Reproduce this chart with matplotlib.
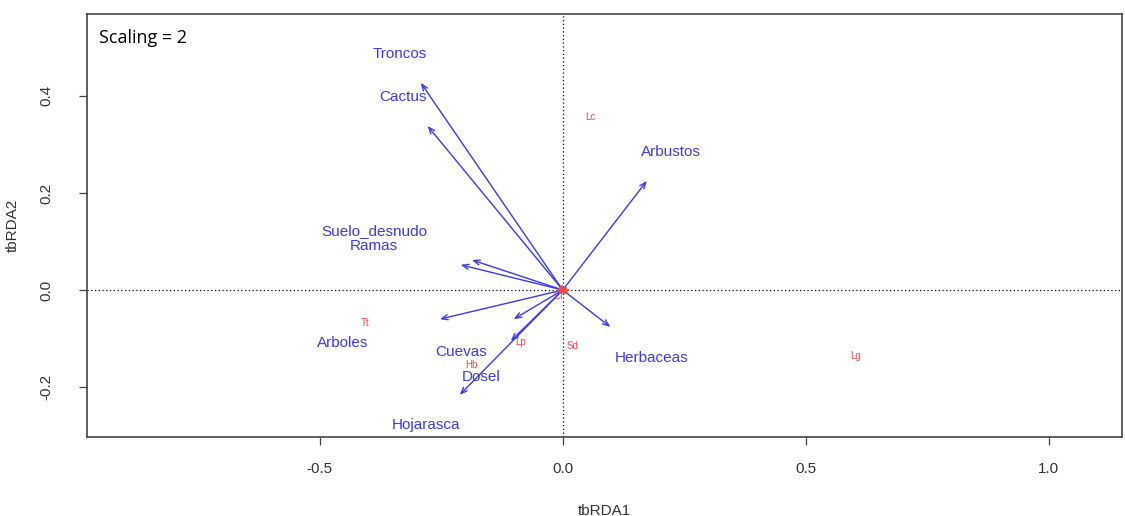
import matplotlib
matplotlib.use("Agg")
import matplotlib.pyplot as plt

# Environmental variable arrows (biplot scores)
env_names = ["Troncos", "Cactus", "Arbustos", "Suelo_desnudo", "Ramas", "Arboles",
             "Cuevas", "Dosel", "Hojarasca", "Herbaceas"]
env_x = [-0.292, -0.278, 0.173, -0.187, -0.210, -0.253, -0.101, -0.107, -0.212, 0.098]
env_y = [0.427, 0.338, 0.225, 0.062, 0.052, -0.060, -0.060, -0.105, -0.216, -0.076]
# label positions
lab_x = [-0.335, -0.329, 0.222, -0.387, -0.389, -0.453, -0.210, -0.167, -0.282, 0.183]
lab_y = [0.487, 0.398, 0.285, 0.122, 0.091, -0.109, -0.128, -0.179, -0.278, -0.140]

# Species scores
sp_names = ["Lc", "Tt", "Lp", "Sd", "Lg", "Hb", "Cf"]
sp_x = [0.056, -0.407, -0.086, 0.021, 0.603, -0.188, -0.008]
sp_y = [0.357, -0.068, -0.107, -0.115, -0.136, -0.155, -0.012]

# Site points clustered at origin
site_x = [-0.004, 0.002, 0.006, -0.002, 0.004, -0.006, 0.000]
site_y = [0.002, -0.003, 0.001, 0.004, -0.001, -0.002, 0.000]

blue = "#3b3bea"
red = "#f04848"

fig = plt.figure(figsize=(11.25, 5.16), dpi=100)
ax = fig.add_axes([0.0773, 0.153, 0.9197, 0.820])
ax.set_xlim(-0.979, 1.150)
ax.set_ylim(-0.303, 0.569)

ax.axhline(0, color="black", linestyle=(0, (1, 2)), linewidth=0.9, zorder=1)
ax.axvline(0, color="black", linestyle=(0, (1, 2)), linewidth=0.9, zorder=1)

ax.scatter(site_x, site_y, marker="+", color=red, s=25, linewidths=1.2, zorder=3)

for x, y in zip(env_x, env_y):
    ax.annotate("", xy=(x, y), xytext=(0, 0),
                arrowprops=dict(arrowstyle="->,head_length=0.45,head_width=0.18",
                                color=blue, lw=1.0, shrinkA=0, shrinkB=0),
                zorder=2)
for n, x, y in zip(env_names, lab_x, lab_y):
    ax.text(x, y, n, color=blue, fontsize=11, ha="center", va="center",
            family="Liberation Sans")

for n, x, y in zip(sp_names, sp_x, sp_y):
    ax.text(x, y, n, color=red, fontsize=7, ha="center", va="center",
            family="Liberation Sans")

ax.text(0.012, 0.965, "Scaling = 2", transform=ax.transAxes, fontsize=13,
        ha="left", va="top", family="Open Sans")

ax.set_xticks([-0.5, 0.0, 0.5, 1.0])
ax.set_xticklabels(["-0.5", "0.0", "0.5", "1.0"])
ax.set_yticks([-0.2, 0.0, 0.2, 0.4])
ax.set_yticklabels(["-0.2", "0.0", "0.2", "0.4"], rotation=90, va="center")
ax.tick_params(axis="both", labelsize=11, length=6, width=0.9, color="#444444",
               labelcolor="#333333")
ax.tick_params(axis="x", pad=12)
ax.tick_params(axis="y", pad=18)
for lab in ax.get_xticklabels() + ax.get_yticklabels():
    lab.set_family("Liberation Sans")
for s in ax.spines.values():
    s.set_color("#444444")
    s.set_linewidth(1.2)

ax.set_xlabel("tbRDA1", fontsize=11, color="#333333", family="Liberation Sans", labelpad=20)
ax.set_ylabel("tbRDA2", fontsize=11, color="#333333", family="Liberation Sans", labelpad=14)

fig.savefig("out.png", dpi=100)
